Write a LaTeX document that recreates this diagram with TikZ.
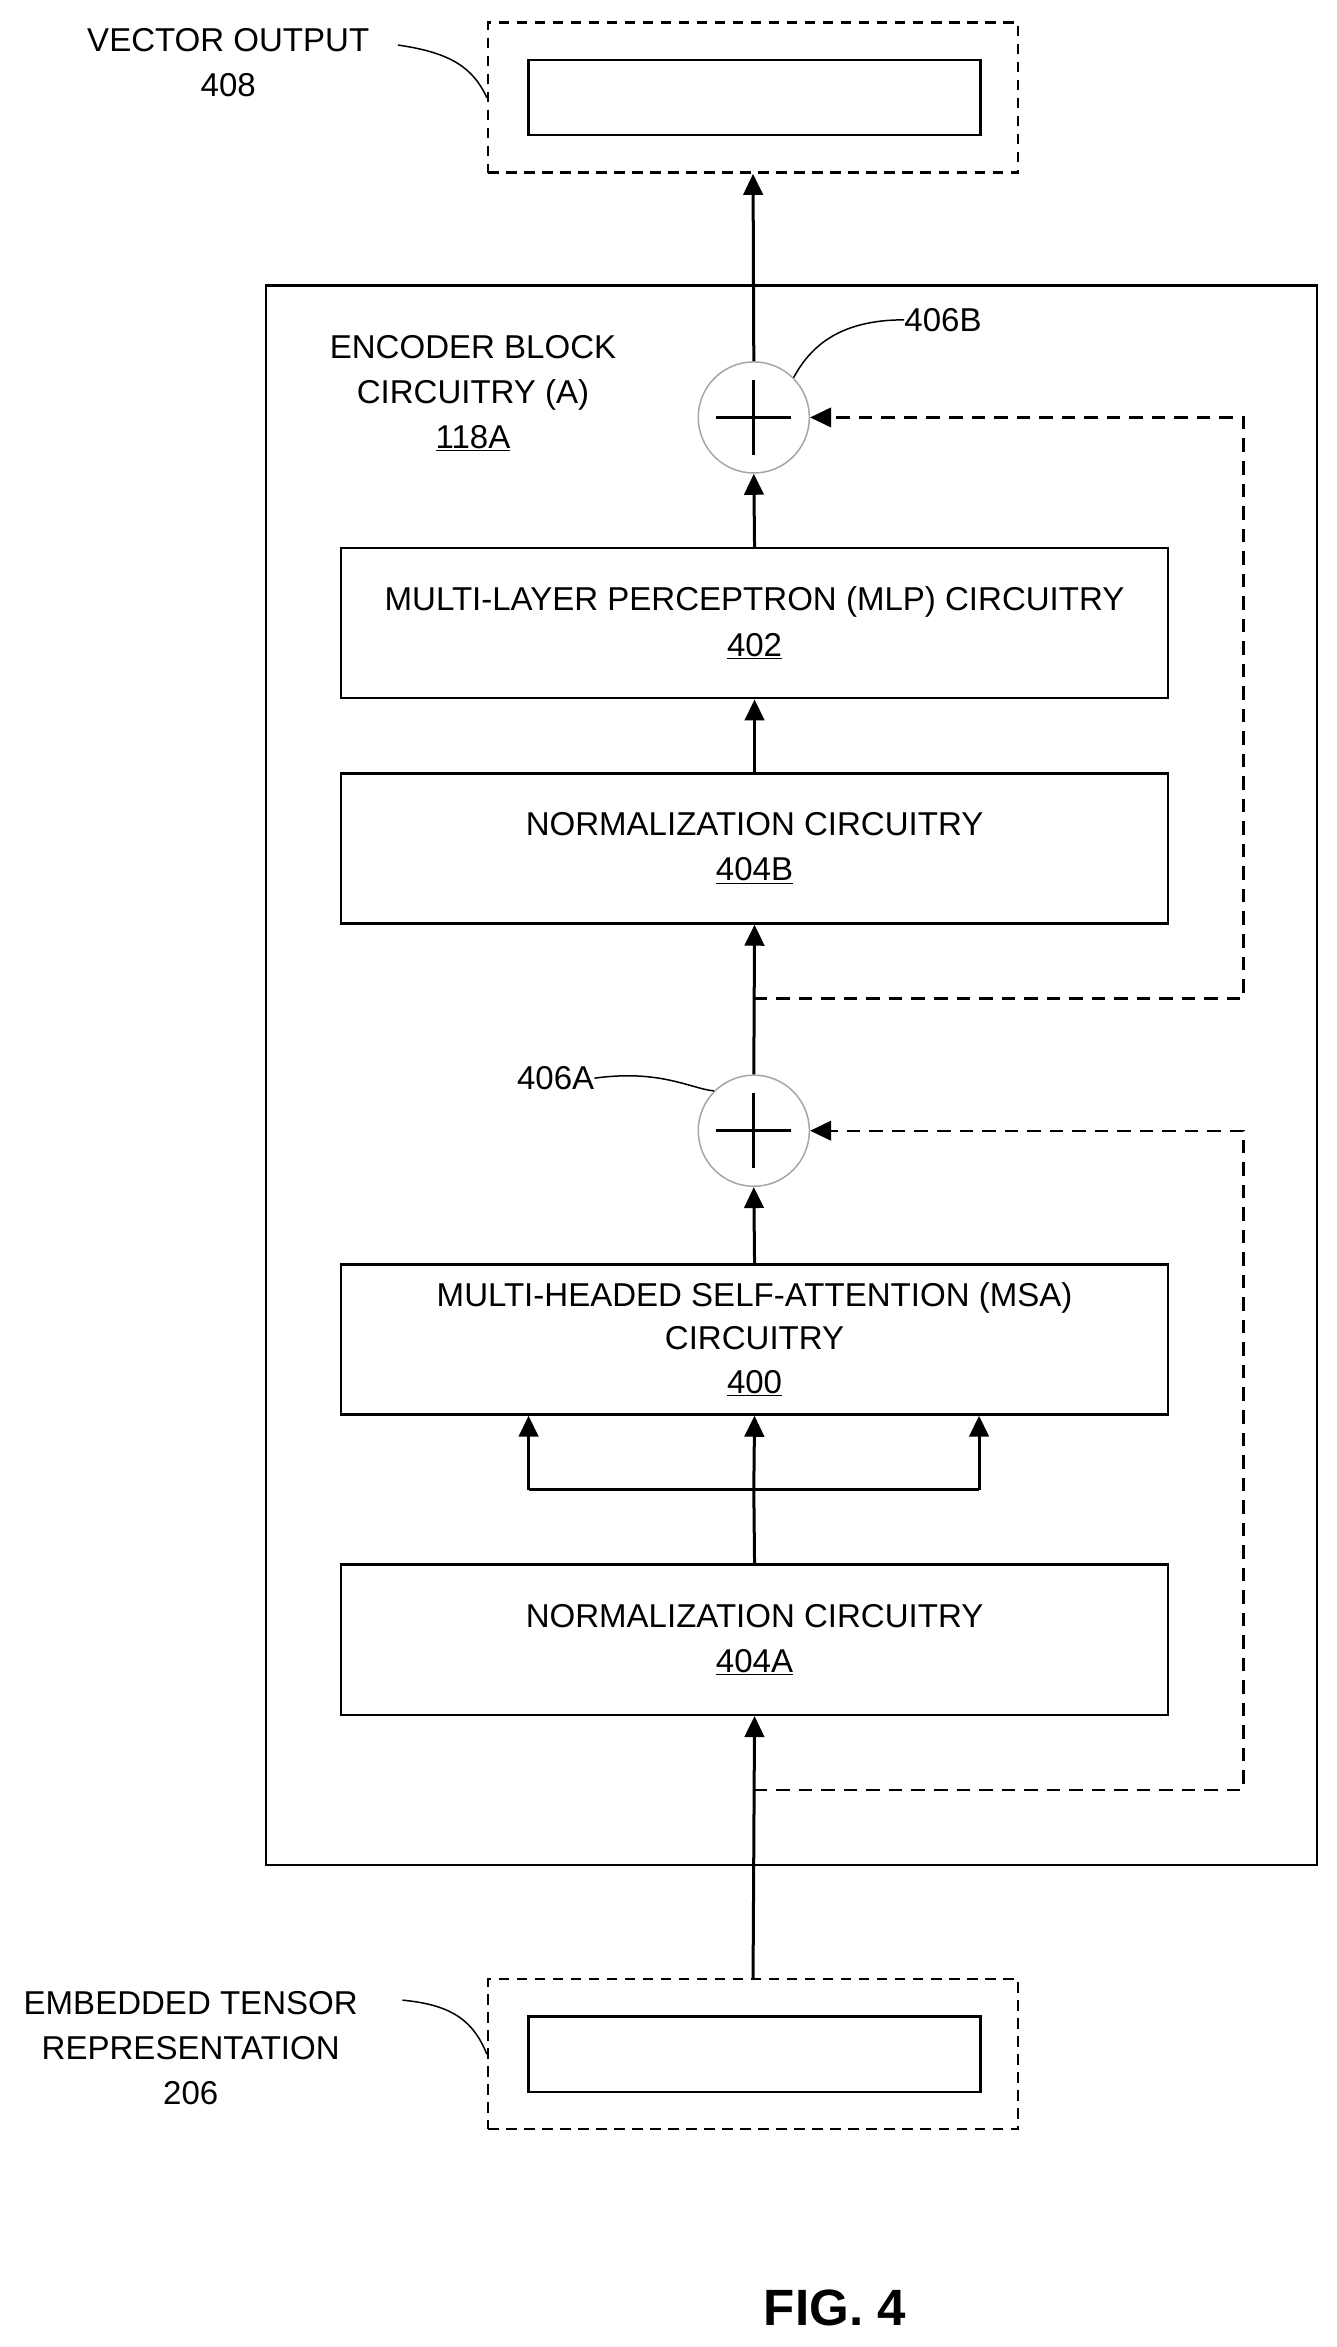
\documentclass[tikz,border=0pt]{standalone}
\usepackage{fontspec}
\setmainfont{Liberation Sans}
\usetikzlibrary{arrows.meta}
\begin{document}
\begin{tikzpicture}[x=1pt,y=1pt,
  font=\fontsize{22}{26}\selectfont,
  box/.style={draw,line width=1.6pt,minimum width=551pt,minimum height=100pt,inner sep=0pt},
  dbox/.style={draw,line width=1.6pt,dash pattern=on 7pt off 5pt,minimum width=353pt,minimum height=100pt,inner sep=0pt},
  ibox/.style={draw,line width=1.6pt,minimum width=301pt,minimum height=50pt,inner sep=0pt},
  adder/.style={draw=gray!70,line width=1pt,circle,minimum size=74pt,inner sep=0pt},
  arr/.style={line width=2pt,-{Triangle[length=14pt,width=13pt]}},
  darr/.style={line width=1.6pt,dash pattern=on 9pt off 6pt,-{Triangle[length=14pt,width=13pt]}},
  lead/.style={line width=1pt},
  lbl/.style={align=center,inner sep=0pt}]
\useasboundingbox (0,0) rectangle (890,-1563);
% outer encoder
\node[draw,line width=1.6pt,minimum width=700pt,minimum height=1052pt,inner sep=0pt] (enc) at (527,-716) {};
% vector output
\node[dbox] (vo) at (501.5,-65) {};
\node[ibox] (voi) at (502.5,-65) {};
\node[lbl] (volbl) at (152,-42) {VECTOR OUTPUT\\[4pt]408};
\draw[lead] (265,-30) .. controls (300,-35) and (315,-45) .. (vo.west);
% encoder label
\node[lbl] (enclbl) at (315,-262) {ENCODER BLOCK\\[4pt]CIRCUITRY (A)\\[4pt]\underline{118A}};
% adders
\node[adder] (addB) at (502,-278) {};
\draw[line width=1.8pt] (477,-278) -- (527,-278) (502,-253) -- (502,-303);
\node[adder] (addA) at (502,-753) {};
\draw[line width=1.8pt] (477,-753) -- (527,-753) (502,-728) -- (502,-778);
\node[lbl] (lB) at (628,-213) {406B};
\draw[lead] (lB.west) .. controls (560,-213) and (540,-230) .. (addB.north east);
\node[lbl] (lA) at (370,-718) {406A};
\draw[lead] (lA.east) .. controls (440,-712) and (460,-725) .. (addA.north west);
% boxes
\node[box,lbl] (mlp) at (502.5,-415) {MULTI-LAYER PERCEPTRON (MLP) CIRCUITRY\\[4pt]\underline{402}};
\node[box,lbl] (nB) at (502.5,-565) {NORMALIZATION CIRCUITRY\\[4pt]\underline{404B}};
\node[box,lbl] (msa) at (502.5,-892) {MULTI-HEADED SELF-ATTENTION (MSA)\\[3pt]CIRCUITRY\\[3pt]\underline{400}};
\node[box,lbl] (nA) at (502.5,-1092) {NORMALIZATION CIRCUITRY\\[4pt]\underline{404A}};
% embedded
\node[dbox] (emb) at (501.5,-1368) {};
\node[ibox] (embi) at (502.5,-1368) {};
\node[lbl] (emblbl) at (127,-1364) {EMBEDDED TENSOR\\[4pt]REPRESENTATION\\[4pt]206};
\draw[lead] (268,-1332) .. controls (300,-1335) and (315,-1345) .. (emb.west);
% arrows
\coordinate (sA) at (502,-1192);
\coordinate (sB) at (502,-665);
\draw[arr] (emb.north) -- (nA.south);
\draw[line width=2pt] (nA.north) -- (502,-992);
\coordinate (fl) at (352,-992);
\coordinate (fr) at (652,-992);
\draw[line width=2pt] (fl) -- (fr);
\draw[arr] (fl) -- (fl|-msa.south);
\draw[arr] (502,-992) -- (msa.south);
\draw[arr] (fr) -- (fr|-msa.south);
\draw[arr] (msa.north) -- (addA.south);
\draw[arr] (addA.north) -- (nB.south);
\draw[arr] (nB.north) -- (mlp.south);
\draw[arr] (mlp.north) -- (addB.south);
\draw[arr] (addB.north) -- (vo.south);
\draw[darr] (sA) -- (828,-1192) -- (828,-753) -- (addA.east);
\draw[darr] (sB) -- (828,-665) -- (828,-278) -- (addB.east);
\node[font=\fontsize{34}{40}\selectfont\bfseries] (fig) at (556,-1537) {FIG. 4};
\end{tikzpicture}
\end{document}
